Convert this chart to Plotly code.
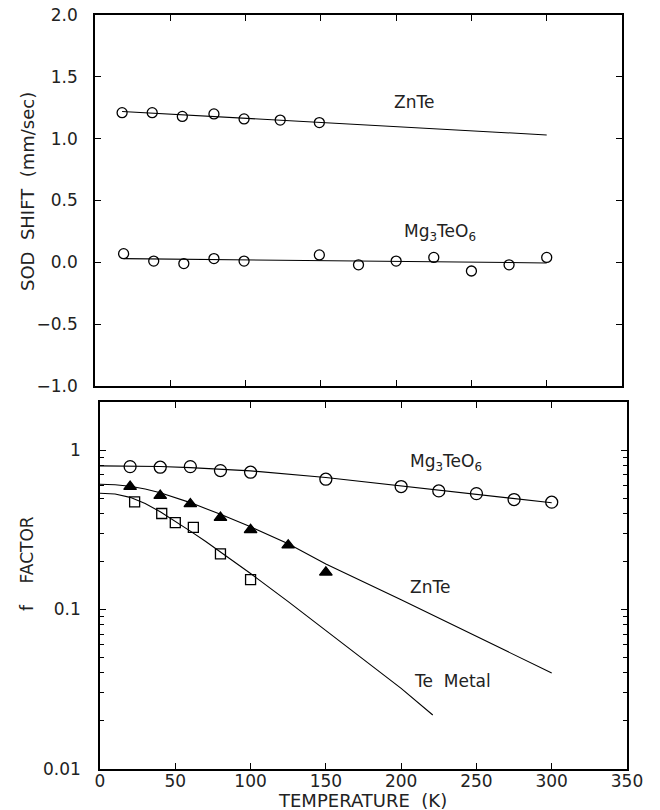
import numpy as np
import plotly.graph_objects as go

# ---------------- data ----------------
# Top panel: SOD shift (mm/sec)
znte_sod_T = [18, 38, 58, 79, 99, 123, 149]
znte_sod_v = [1.21, 1.21, 1.18, 1.20, 1.16, 1.15, 1.13]
znte_sod_line_T = [18, 300]
znte_sod_line_v = [1.22, 1.03]

mg_sod_T = [19, 39, 59, 79, 99, 149, 175, 200, 225, 250, 275, 300]
mg_sod_v = [0.07, 0.01, -0.01, 0.03, 0.01, 0.06, -0.02, 0.01, 0.04, -0.07, -0.02, 0.04]
mg_sod_line_T = [19, 300]
mg_sod_line_v = [0.03, -0.005]

# Bottom panel: f factor
mg_f_T = [20, 40, 60, 80, 100, 150, 200, 225, 250, 275, 300]
mg_f_v = [0.787, 0.780, 0.787, 0.743, 0.726, 0.656, 0.590, 0.554, 0.533, 0.489, 0.471]
mg_f_line_T = [0, 20, 40, 60, 80, 100, 150, 200, 250, 300]
mg_f_line_v = [0.795, 0.795, 0.788, 0.776, 0.760, 0.740, 0.672, 0.597, 0.528, 0.467]

znte_f_T = [20, 40, 60, 80, 100, 125, 150]
znte_f_v = [0.590, 0.518, 0.459, 0.377, 0.316, 0.253, 0.171]
znte_f_line_T = [0, 10, 20, 30, 40, 50, 60, 80, 100, 125, 150, 200, 250, 300]
znte_f_line_v = [0.610, 0.606, 0.593, 0.570, 0.540, 0.505, 0.468, 0.395, 0.330,
                 0.258, 0.193, 0.115, 0.068, 0.040]

te_f_T = [23, 41, 50, 62, 80, 100]
te_f_v = [0.473, 0.400, 0.351, 0.327, 0.223, 0.154]
te_f_line_T = [0, 10, 20, 30, 40, 50, 60, 70, 80, 100, 125, 150, 175, 200, 221]
te_f_line_v = [0.536, 0.530, 0.505, 0.462, 0.410, 0.358, 0.310, 0.268, 0.230,
               0.168, 0.112, 0.074, 0.049, 0.032, 0.0218]

x_ticks = [0, 50, 100, 150, 200, 250, 300, 350]
sod_ticks = [-1.0, -0.5, 0.0, 0.5, 1.0, 1.5, 2.0]
f_major = [0.01, 0.1, 1]
f_major_text = ["0.01", "0.1", "1"]
f_minor = [0.02, 0.03, 0.04, 0.05, 0.06, 0.07, 0.08, 0.09,
           0.2, 0.3, 0.4, 0.5, 0.6, 0.7, 0.8, 0.9]

# ---------------- figure ----------------
# page body has an 8px margin; figure sized to fit the 660x810 window
OFF = 8
W, H = 660 - OFF, 810 - OFF
FONT = "DejaVu Sans, Liberation Sans, sans-serif"
TXT = "#222222"
LC = "black"

def px_x(p):
    return (p - OFF) / W

def px_y(p):
    return 1 - (p - OFF) / H

fig = go.Figure()

def line(x, y, xa, ya):
    fig.add_trace(go.Scatter(x=x, y=y, mode="lines", xaxis=xa, yaxis=ya,
                             line=dict(color=LC, width=1.1), hoverinfo="skip"))

def pts(x, y, xa, ya, symbol, size):
    fig.add_trace(go.Scatter(x=x, y=y, mode="markers", xaxis=xa, yaxis=ya,
                             marker=dict(symbol=symbol, size=size, color=LC,
                                         line=dict(color=LC, width=1.3))))

# top panel
line(znte_sod_line_T, znte_sod_line_v, "x", "y")
line(mg_sod_line_T, mg_sod_line_v, "x", "y")
pts(znte_sod_T, znte_sod_v, "x", "y", "circle-open", 10)
pts(mg_sod_T, mg_sod_v, "x", "y", "circle-open", 10)

# bottom panel
line(mg_f_line_T, mg_f_line_v, "x2", "y2")
line(znte_f_line_T, znte_f_line_v, "x2", "y2")
line(te_f_line_T, te_f_line_v, "x2", "y2")
pts(mg_f_T, mg_f_v, "x2", "y2", "circle-open", 12)
pts(znte_f_T, znte_f_v, "x2", "y2", "triangle-up", 11)
pts(te_f_T, te_f_v, "x2", "y2", "square-open", 10)

axis_common = dict(showline=True, linecolor=LC, linewidth=1.5, mirror="ticks",
                   ticks="inside", ticklen=6, tickwidth=1.2, tickcolor=LC,
                   showgrid=False, zeroline=False, automargin=False,
                   ticklabeloverflow="allow",
                   tickfont=dict(family=FONT, size=17, color=TXT))

fig.update_layout(
    template="none",
    width=W, height=H, margin=dict(l=0, r=0, t=0, b=0, pad=0),
    paper_bgcolor="white", plot_bgcolor="white", showlegend=False,
    xaxis=dict(domain=[px_x(95), px_x(622)], range=[0, 350], anchor="y",
               tickvals=x_ticks, showticklabels=False, **axis_common),
    yaxis=dict(domain=[px_y(386), px_y(15)], range=[-1.0, 2.0], anchor="x",
               tickvals=sod_ticks, tickformat=".1f", ticklabelstandoff=12,
               **axis_common),
    xaxis2=dict(domain=[px_x(100), px_x(627)], range=[0, 350], anchor="y2",
                tickvals=x_ticks, ticklabelstandoff=-4, **axis_common),
    yaxis2=dict(domain=[px_y(769), px_y(402)], type="log", range=[-2, np.log10(2.0)],
                anchor="x2", tickvals=f_major, ticktext=f_major_text,
                ticklabelstandoff=14,
                minor=dict(tickvals=f_minor, ticks="inside", ticklen=4,
                           tickwidth=1.0, tickcolor=LC),
                **axis_common),
)

ann_font = dict(family=FONT, size=17, color=TXT)
annotations = [
    dict(x=212, y=1.30, xref="x", yref="y", text="ZnTe"),
    dict(x=229, y=0.245, xref="x", yref="y", text="Mg<sub>3</sub>TeO<sub>6</sub>"),
    dict(x=230, y=np.log10(0.83), xref="x2", yref="y2", text="Mg<sub>3</sub>TeO<sub>6</sub>"),
    dict(x=219, y=np.log10(0.139), xref="x2", yref="y2", text="ZnTe"),
    dict(x=234, y=np.log10(0.0355), xref="x2", yref="y2", text="Te  Metal"),
]
for a in annotations:
    fig.add_annotation(showarrow=False, font=ann_font, xanchor="center",
                       yanchor="middle", **a)

# axis titles
fig.add_annotation(x=px_x(27), y=px_y(192), xref="paper", yref="paper",
                   xanchor="center", yanchor="middle",
                   text="SOD  SHIFT  (mm/sec)", textangle=-90, showarrow=False,
                   font=dict(family=FONT, size=18, color=TXT))
fig.add_annotation(x=px_x(27), y=px_y(564), xref="paper", yref="paper",
                   xanchor="center", yanchor="middle",
                   text="f    FACTOR", textangle=-90, showarrow=False,
                   font=dict(family=FONT, size=17, color=TXT))
fig.add_annotation(x=px_x(362), y=px_y(800), xref="paper", yref="paper",
                   xanchor="center", yanchor="middle",
                   text="TEMPERATURE  (K)", showarrow=False,
                   font=dict(family=FONT, size=18, color=TXT))

fig.write_html("out.html")
